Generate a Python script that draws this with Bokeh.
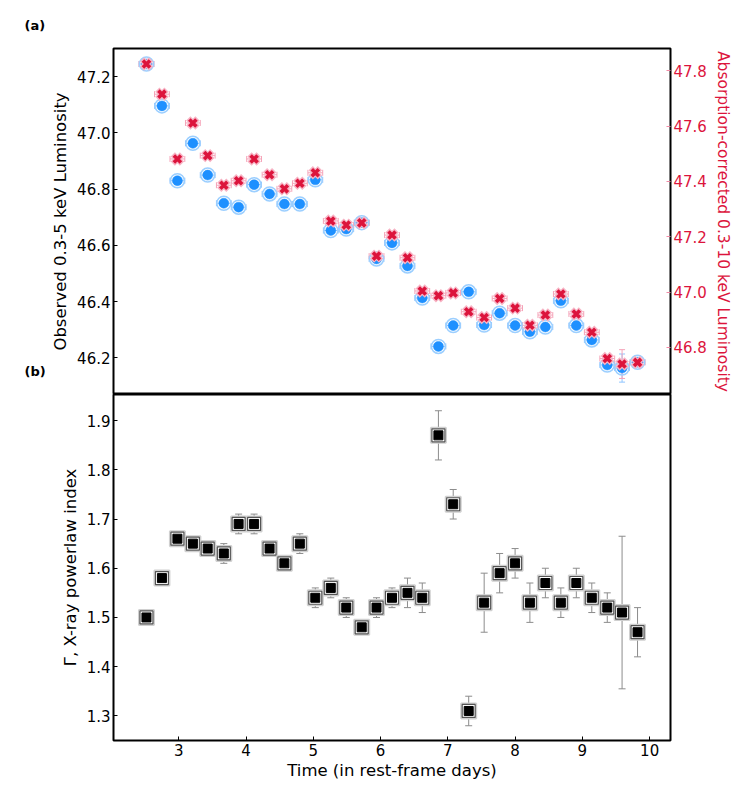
from bokeh.plotting import figure
from bokeh.models import (Range1d, LinearAxis, FixedTicker, Whisker, ColumnDataSource,
                          Label, TeeHead, PrintfTickFormatter)
from bokeh.layouts import column, row
from bokeh.embed import file_html
from bokeh.resources import INLINE

# ---------------- data ----------------
time_days = [2.52, 2.75, 2.98, 3.21, 3.43, 3.67, 3.89, 4.12, 4.35, 4.57, 4.80,
             5.03, 5.26, 5.49, 5.72, 5.94, 6.17, 6.40, 6.62, 6.86, 7.08, 7.31,
             7.54, 7.77, 8.00, 8.22, 8.45, 8.68, 8.91, 9.14, 9.37, 9.59, 9.82]
time_err = 0.11

obs_lum = [47.245, 47.096, 46.830, 46.963, 46.850, 46.750, 46.736, 46.816, 46.783,
           46.747, 46.747, 46.833, 46.653, 46.658, 46.681, 46.552, 46.609, 46.527,
           46.413, 46.241, 46.315, 46.435, 46.317, 46.359, 46.315, 46.293, 46.310,
           46.403, 46.315, 46.264, 46.175, 46.164, 46.185]
obs_err = [0.01, 0.01, 0.01, 0.01, 0.01, 0.01, 0.01, 0.01, 0.01, 0.01, 0.01,
           0.01, 0.01, 0.01, 0.01, 0.01, 0.01, 0.01, 0.01, 0.01, 0.01, 0.01,
           0.01, 0.01, 0.01, 0.01, 0.01, 0.01, 0.01, 0.01, 0.01, 0.05, 0.01]

corr_lum = [47.824, 47.715, 47.481, 47.611, 47.493, 47.386, 47.402, 47.481, 47.424,
            47.373, 47.393, 47.431, 47.257, 47.242, 47.250, 47.130, 47.206, 47.124,
            47.004, 46.987, 46.997, 46.929, 46.908, 46.977, 46.942, 46.880, 46.917,
            46.993, 46.921, 46.855, 46.760, 46.740, 46.746]
corr_err = [0.01, 0.01, 0.01, 0.01, 0.01, 0.01, 0.01, 0.01, 0.01, 0.01, 0.01,
            0.01, 0.01, 0.01, 0.01, 0.01, 0.01, 0.01, 0.01, 0.01, 0.01, 0.01,
            0.01, 0.01, 0.01, 0.01, 0.01, 0.01, 0.01, 0.01, 0.01, 0.052, 0.01]

gamma = [1.50, 1.58, 1.66, 1.65, 1.64, 1.63, 1.69, 1.69, 1.64, 1.61, 1.65,
         1.54, 1.56, 1.52, 1.48, 1.52, 1.54, 1.55, 1.54, 1.87, 1.73, 1.31,
         1.53, 1.59, 1.61, 1.53, 1.57, 1.53, 1.57, 1.54, 1.52, 1.51, 1.47]
gamma_err = [0.01, 0.01, 0.01, 0.01, 0.01, 0.02, 0.02, 0.02, 0.01, 0.01, 0.02,
             0.02, 0.02, 0.02, 0.01, 0.02, 0.02, 0.03, 0.03, 0.05, 0.03, 0.03,
             0.06, 0.04, 0.03, 0.04, 0.03, 0.03, 0.03, 0.03, 0.03, 0.155, 0.05]

x_ticks = [3, 4, 5, 6, 7, 8, 9, 10]
obs_ticks = [46.2, 46.4, 46.6, 46.8, 47.0, 47.2]
corr_ticks = [46.8, 47.0, 47.2, 47.4, 47.6, 47.8]
gamma_ticks = [1.3, 1.4, 1.5, 1.6, 1.7, 1.8, 1.9]
panel_tags = ["(a)", "(b)"]

# ---------------- style ----------------
FONT = "DejaVu Sans"
RED = "#dc143c"
BLUE = "#1e90ff"
TAGW = 45
W = 740 - TAGW
LEFT, RIGHT = 113 - TAGW, 70
TOPB = 48
FH = 346
BOTB = 50
TOTAL_H = TOPB + FH + FH + BOTB


def style_axis(ax, color="black"):
    ax.major_tick_in = 4
    ax.major_tick_out = 0
    ax.minor_tick_line_color = None
    ax.major_tick_line_color = color
    ax.major_label_text_font = FONT
    ax.major_label_text_font_size = "15px"
    ax.major_label_text_color = color
    ax.axis_label_text_font = FONT
    ax.axis_label_text_font_size = "16.5px"
    ax.axis_label_text_font_style = "normal"
    ax.axis_label_text_color = color
    ax.axis_line_color = None
    ax.major_label_standoff = 3
    ax.axis_label_standoff = 4


x_range = Range1d(2.03, 10.31)

# ---------------- panel tag strip ----------------
tags = figure(width=TAGW, height=TOTAL_H, x_axis_type=None, y_axis_type=None,
              output_backend="svg", toolbar_location=None,
              min_border_left=0, min_border_right=0, min_border_top=0, min_border_bottom=0)
tags.outline_line_color = None
tags.grid.visible = False
tags.add_layout(Label(x=24, y=TOTAL_H - 25, x_units="screen", y_units="screen",
                      text=panel_tags[0], text_font=FONT, text_font_size="13px",
                      text_font_style="bold", text_color="black", text_baseline="middle"))
tags.add_layout(Label(x=24, y=TOTAL_H - 371, x_units="screen", y_units="screen",
                      text=panel_tags[1], text_font=FONT, text_font_size="13px",
                      text_font_style="bold", text_color="black", text_baseline="middle"))

# ---------------- top panel ----------------
p1 = figure(width=W, height=TOPB + FH, x_range=x_range, y_range=Range1d(46.07, 47.30),
            output_backend="svg", toolbar_location=None,
            min_border_left=LEFT, min_border_right=RIGHT,
            min_border_top=TOPB, min_border_bottom=0)
p1.extra_y_ranges = {"corr": Range1d(46.63, 47.88)}
p1.grid.visible = False
p1.outline_line_color = "black"
p1.outline_line_width = 2

ax_r = LinearAxis(y_range_name="corr", axis_label="Absorption-corrected 0.3-10 keV Luminosity",
                  ticker=FixedTicker(ticks=corr_ticks),
                  formatter=PrintfTickFormatter(format="%.1f"))
p1.add_layout(ax_r, "right")
style_axis(ax_r, RED)
ax_r.major_tick_line_color = "#f08aa5"
ax_r.axis_label_text_font_size = "15.5px"

p1.yaxis[0].axis_label = "Observed 0.3-5 keV Luminosity"
p1.yaxis[0].ticker = FixedTicker(ticks=obs_ticks)
p1.yaxis[0].formatter = PrintfTickFormatter(format="%.1f")
style_axis(p1.yaxis[0])
p1.xaxis.visible = False

top = ColumnDataSource(dict(
    t=time_days,
    t_lo=[t - time_err for t in time_days], t_hi=[t + time_err for t in time_days],
    obs=obs_lum,
    obs_lo=[v - e for v, e in zip(obs_lum, obs_err)],
    obs_hi=[v + e for v, e in zip(obs_lum, obs_err)],
    corr=corr_lum,
    corr_lo=[v - e for v, e in zip(corr_lum, corr_err)],
    corr_hi=[v + e for v, e in zip(corr_lum, corr_err)],
))

BL = "#8ec5ff"
PK = "#f5a3b8"
p1.add_layout(Whisker(source=top, base="obs", lower="t_lo", upper="t_hi", dimension="width",
                      line_color=BL, line_width=1, level="underlay",
                      lower_head=TeeHead(size=6, line_color=BL),
                      upper_head=TeeHead(size=6, line_color=BL)))
p1.add_layout(Whisker(source=top, base="t", lower="obs_lo", upper="obs_hi",
                      line_color=BL, line_width=1, level="underlay",
                      lower_head=TeeHead(size=6, line_color=BL),
                      upper_head=TeeHead(size=6, line_color=BL)))
p1.add_layout(Whisker(source=top, base="corr", lower="t_lo", upper="t_hi", dimension="width",
                      y_range_name="corr",
                      line_color=PK, line_width=1, level="underlay",
                      lower_head=TeeHead(size=6, line_color=PK),
                      upper_head=TeeHead(size=6, line_color=PK)))
p1.add_layout(Whisker(source=top, base="t", lower="corr_lo", upper="corr_hi",
                      y_range_name="corr",
                      line_color=PK, line_width=1, level="underlay",
                      lower_head=TeeHead(size=6, line_color=PK),
                      upper_head=TeeHead(size=6, line_color=PK)))

p1.scatter("t", "obs", source=top, marker="circle", size=14, fill_color=None,
           line_color="#9ccfff", line_width=1.5)
p1.scatter("t", "obs", source=top, marker="circle", size=10, fill_color=BLUE,
           line_color=BLUE, line_width=0.5)
p1.scatter("t", "corr", source=top, y_range_name="corr", marker="x", size=13,
           line_color="#f7b3c4", line_width=6)
p1.scatter("t", "corr", source=top, y_range_name="corr", marker="x", size=10,
           line_color=RED, line_width=3.6)

# ---------------- bottom panel ----------------
p2 = figure(width=W, height=FH + BOTB, x_range=x_range, y_range=Range1d(1.25, 1.953),
            output_backend="svg", toolbar_location=None,
            min_border_left=LEFT, min_border_right=RIGHT,
            min_border_top=0, min_border_bottom=BOTB)
p2.grid.visible = False
p2.outline_line_color = "black"
p2.outline_line_width = 2
p2.xaxis.ticker = FixedTicker(ticks=x_ticks)
p2.xaxis.axis_label = "Time (in rest-frame days)"
p2.yaxis.ticker = FixedTicker(ticks=gamma_ticks)
p2.yaxis.formatter = PrintfTickFormatter(format="%.1f")
p2.yaxis.axis_label = "\u0393, X-ray powerlaw index"
style_axis(p2.xaxis[0])
style_axis(p2.yaxis[0])
p2.xaxis.axis_label_standoff = 2

bot = ColumnDataSource(dict(
    t=time_days,
    t_lo=[t - time_err for t in time_days], t_hi=[t + time_err for t in time_days],
    g=gamma,
    g_lo=[v - e for v, e in zip(gamma, gamma_err)],
    g_hi=[v + e for v, e in zip(gamma, gamma_err)],
))
GREY = "#8c8c8c"
p2.add_layout(Whisker(source=bot, base="g", lower="t_lo", upper="t_hi", dimension="width",
                      line_color="#b0b0b0", line_width=1, level="underlay",
                      lower_head=TeeHead(size=6, line_color="#b0b0b0"),
                      upper_head=TeeHead(size=6, line_color="#b0b0b0")))
p2.add_layout(Whisker(source=bot, base="t", lower="g_lo", upper="g_hi",
                      line_color=GREY, line_width=1, level="underlay",
                      lower_head=TeeHead(size=7, line_color=GREY),
                      upper_head=TeeHead(size=7, line_color=GREY)))
p2.scatter("t", "g", source=bot, marker="square", size=15, fill_color=None,
           line_color="#d0d0d0", line_width=2)
p2.scatter("t", "g", source=bot, marker="square", size=13, fill_color="white",
           line_color="#555555", line_width=1.2)
p2.scatter("t", "g", source=bot, marker="square", size=9, fill_color="black",
           line_color="black")

layout = row(tags, column(p1, p2, spacing=0), spacing=0)
open("out.html", "w").write(file_html(layout, INLINE))
